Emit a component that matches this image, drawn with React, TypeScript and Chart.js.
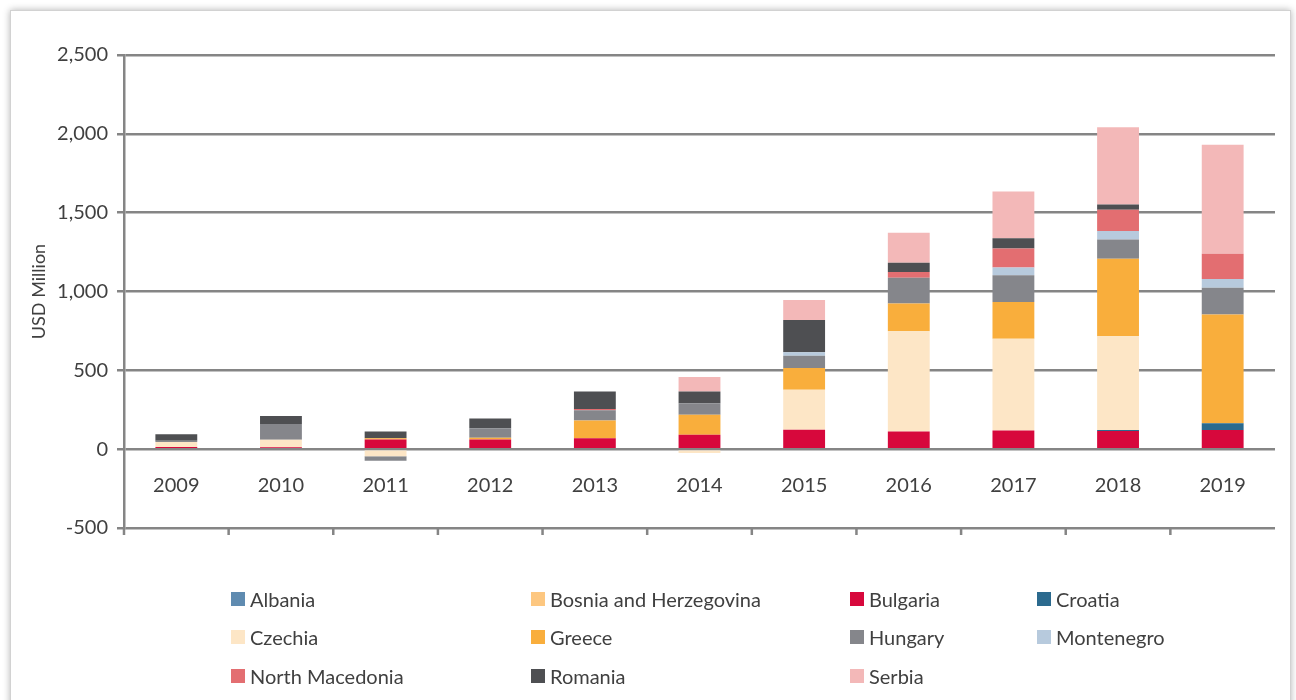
import React, { useEffect, useRef } from "react";
import { Chart, registerables } from "chart.js";

Chart.register(...registerables);

// ---- data (USD million) ----
const years = ["2009", "2010", "2011", "2012", "2013", "2014", "2015", "2016", "2017", "2018", "2019"];
const albania = [0, 0, 0, 0, 0, 0, 0, 0, 0, 0, 0];
const bosnia = [8, 0, 0, 0, 0, 0, 0, 0, 0, 0, 0];
const bulgaria = [5, 12, 62, 62, 70, 91, 123, 112, 119, 116, 122];
const croatia = [0, 0, 0, 0, 0, 0, 0, 0, 0, 5, 42];
const czechia = [32, 48, -45, 0, 0, -25, 254, 636, 581, 595, 0];
const greece = [0, 0, 8, 10, 112, 127, 138, 176, 233, 492, 690];
const hungary = [8, 100, -28, 60, 65, 74, 78, 163, 170, 122, 169];
const montenegro = [0, 0, 0, 0, 0, 0, 21, 0, 49, 53, 57];
const northMacedonia = [0, 0, 0, 0, 8, 0, 0, 36, 121, 135, 160];
const romania = [42, 50, 42, 62, 110, 74, 205, 59, 64, 34, 0];
const serbia = [0, 0, 0, 0, 0, 91, 127, 191, 297, 490, 690];

const seriesNames = [
  "Albania", "Bosnia and Herzegovina", "Bulgaria", "Croatia", "Czechia", "Greece",
  "Hungary", "Montenegro", "North Macedonia", "Romania", "Serbia",
];
const seriesValues = [
  albania, bosnia, bulgaria, croatia, czechia, greece,
  hungary, montenegro, northMacedonia, romania, serbia,
];
const seriesColors = [
  "#5f8bb0", "#fdc780", "#d7083c", "#2b6a8e", "#fde6c6", "#f9ae3c",
  "#85868b", "#b7cadd", "#e36e71", "#4e4f52", "#f3b8b8",
];

const yTickValues = [-500, 0, 500, 1000, 1500, 2000, 2500];
const yTickLabels = ["-500", "0", "500", "1,000", "1,500", "2,000", "2,500"];
const yAxisTitle = "USD Million";

const GRID = "#858585";
const TEXT = "#404040";

const bottomTicks = {
  id: "bottomTicks",
  afterDraw(chart: any) {
    const { ctx, chartArea, scales } = chart;
    const yb = scales.y.getPixelForValue(-500);
    const n = years.length;
    const w = (chartArea.right - chartArea.left) / n;
    ctx.save();
    ctx.strokeStyle = GRID;
    ctx.lineWidth = 2.5;
    ctx.beginPath();
    for (let i = 0; i < n; i++) {
      const x = chartArea.left + i * w;
      ctx.moveTo(x, yb);
      ctx.lineTo(x, yb + 7);
    }
    ctx.stroke();
    ctx.restore();
  },
};

export default function App() {
  const ref = useRef<HTMLCanvasElement | null>(null);

  useEffect(() => {
    if (!ref.current) return;
    Chart.defaults.font.family = "Lato";
    Chart.defaults.color = TEXT;
    const chart = new Chart(ref.current, {
      type: "bar",
      data: {
        labels: years,
        datasets: seriesNames.map((name, i) => ({
          label: name,
          data: seriesValues[i],
          backgroundColor: seriesColors[i],
          borderWidth: 0,
          barPercentage: 0.4,
          categoryPercentage: 1,
        })),
      },
      options: {
        animation: false,
        responsive: false,
        maintainAspectRatio: false,
        layout: { padding: { left: 0, top: 55, right: 21, bottom: 172 } },
        plugins: { legend: { display: false }, tooltip: { enabled: false } },
        scales: {
          x: {
            stacked: true,
            position: { y: 0 } as any,
            grid: { display: false, drawTicks: false },
            border: { display: false },
            ticks: { padding: 24, font: { size: 20 }, color: TEXT, maxRotation: 0 },
          },
          y: {
            stacked: true,
            min: -500,
            max: 2500,
            afterFit: (s: any) => {
              s.width = 124;
            },
            ticks: {
              stepSize: 500,
              padding: 9,
              font: { size: 20 },
              color: TEXT,
              callback: (v: any) => {
                const i = yTickValues.indexOf(Number(v));
                return i >= 0 ? yTickLabels[i] : "";
              },
            },
            grid: { color: GRID, lineWidth: 2.5, tickLength: 7 },
            border: { display: true, color: GRID, width: 2.5 },
            title: {
              display: true,
              text: yAxisTitle,
              font: { size: 18 },
              color: TEXT,
              padding: { top: 28, bottom: 0 },
            },
          },
        },
      },
      plugins: [bottomTicks],
    });
    return () => chart.destroy();
  }, []);

  const colLeft = [231, 531, 850, 1037];
  const rowMid = [599, 637, 676];

  return (
    <div
      style={{
        position: "fixed",
        left: 0,
        top: 0,
        width: 1296,
        height: 700,
        background: "#ffffff",
        overflow: "hidden",
        fontFamily: "Lato",
      }}
    >
      <div
        style={{
          position: "absolute",
          left: 10,
          top: 10,
          width: 1279,
          height: 720,
          border: "1px solid #d2d2d2",
          boxShadow: "0 0 7px rgba(0,0,0,0.3)",
          background: "#ffffff",
        }}
      />
      <canvas
        ref={ref}
        width={1296}
        height={700}
        style={{ position: "absolute", left: 0, top: 0, width: 1296, height: 700 }}
      />
      {seriesNames.map((name, i) => (
        <div
          key={name}
          style={{
            position: "absolute",
            left: colLeft[i % 4],
            top: rowMid[Math.floor(i / 4)] - 13,
            height: 26,
            display: "flex",
            alignItems: "center",
            whiteSpace: "nowrap",
            fontSize: 20,
            color: TEXT,
          }}
        >
          <span
            style={{
              display: "inline-block",
              width: 14,
              height: 14,
              background: seriesColors[i],
              marginRight: 5,
            }}
          />
          <span>{name}</span>
        </div>
      ))}
    </div>
  );
}
